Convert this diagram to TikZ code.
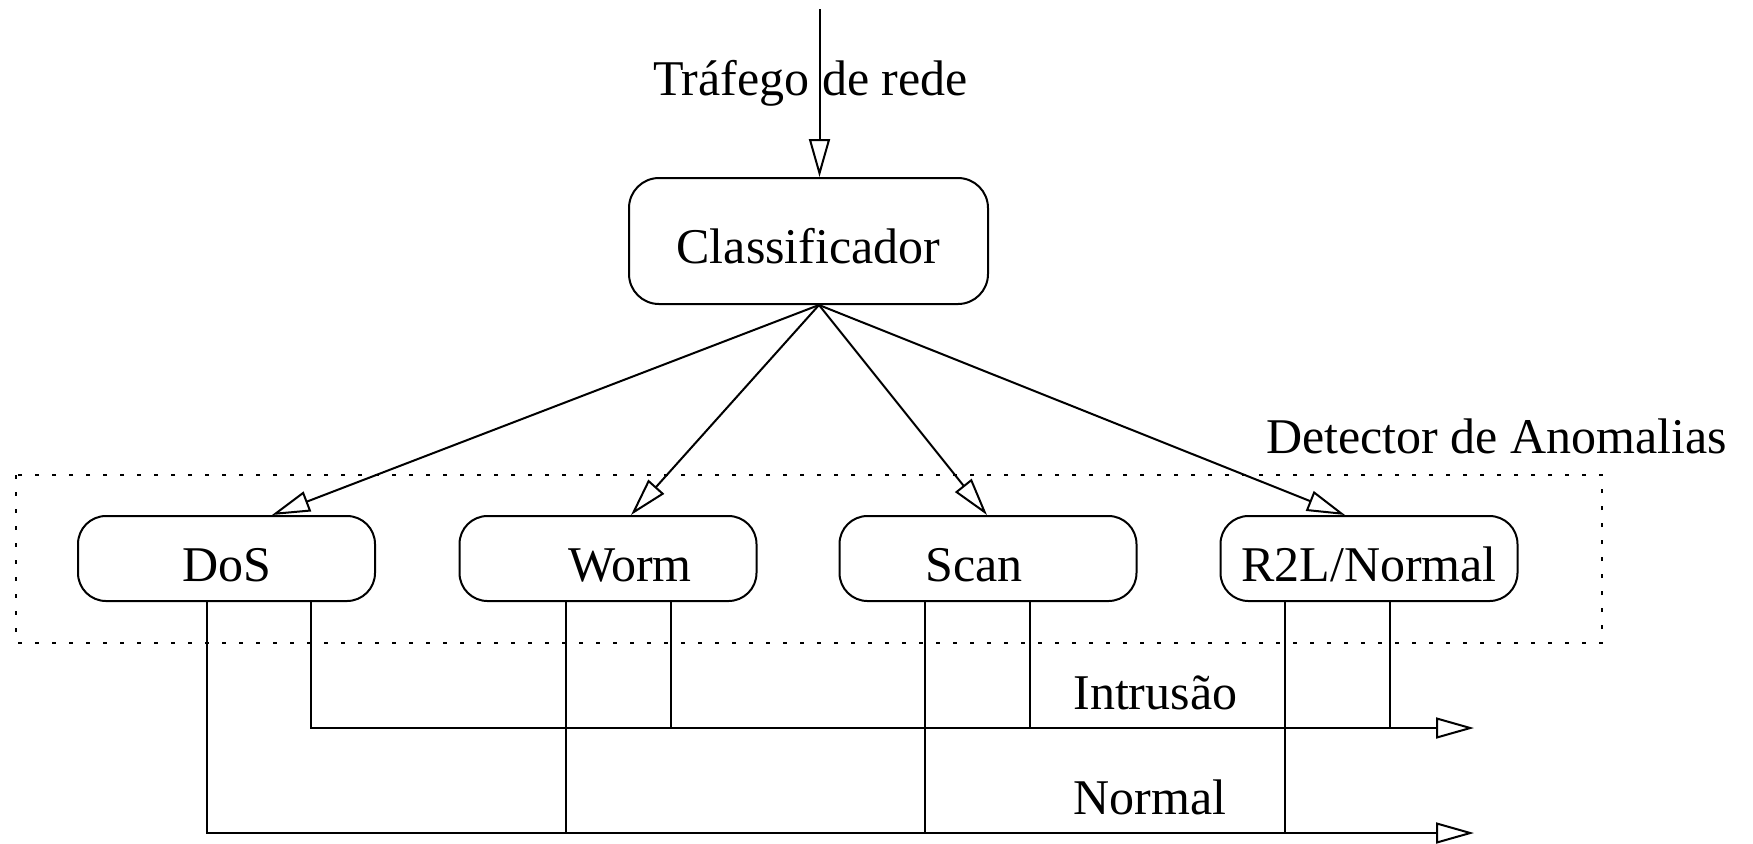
\documentclass[tikz,border=0pt]{standalone}
\usepackage{fontspec}
\setmainfont{Liberation Serif}
\usetikzlibrary{arrows.meta,calc}
\begin{document}
\begin{tikzpicture}[x=0.5pt,y=-0.5pt,
  every node/.style={font=\fontsize{25}{30}\selectfont},
  line/.style={line width=1pt},
  arr/.style={line width=1pt,-{Triangle[open,length=19pt,width=10.5pt]}},
  cbox/.style={draw,line width=1pt,rounded corners=15pt,minimum width=179.5pt,minimum height=63pt,inner sep=0pt,text height=22.5pt,text depth=0pt},
  sbox/.style={draw,line width=1pt,rounded corners=14pt,minimum width=148.5pt,minimum height=42.5pt,inner sep=0pt,text height=22.5pt,text depth=0pt},
  lbl/.style={anchor=base,inner sep=0pt},
  lblw/.style={anchor=base west,inner sep=0pt},
  group/.style={line width=1pt,dash pattern=on 2pt off 6.5pt}
]
\useasboundingbox (0,0) rectangle (1753,843);

% detector group
\draw[group] (16,475) rectangle (1602,643);

% nodes
\node[cbox] (cls) at (808.5,241) {Classificador};
\node[sbox] (dos) at (226.5,558.5) {DoS};
\node[sbox] (worm) at (608,558.5) {\kern22pt Worm};
\node[sbox] (scan) at (988,558.5) {Scan\kern14pt};
\node[sbox] (r2l) at (1369,558.5) {R2L/Normal};

% labels
\node[lbl] (traf) at (810.5,95) {Tráfego de rede};
\node[lbl] (det) at (1496.5,453) {Detector de Anomalias};
\node[lblw] (intr) at (1073,709) {Intrusão};
\node[lblw] (norm) at (1073,814) {Normal};

% input
\coordinate (src) at (819.5,9);
\draw[arr] (src) -- (src |- cls.north);

% classifier outputs
\coordinate (cs) at ($(cls.south)+(10.5,0)$);
\coordinate (tD) at ($(dos.north)+(45.5,0)$);
\coordinate (tW) at ($(worm.north)+(23,0)$);
\coordinate (tS) at ($(scan.north)+(-1,0)$);
\coordinate (tR) at ($(r2l.north)+(-24,0)$);
\draw[arr] (cs) -- (tD);
\draw[arr] (cs) -- (tW);
\draw[arr] (cs) -- (tS);
\draw[arr] (cs) -- (tR);

% output buses
\coordinate (iend) at (1474,728);
\coordinate (nend) at (1474,833);
\coordinate (d1) at ($(dos.south)+(-19.5,0)$);
\coordinate (d2) at ($(dos.south)+(84.5,0)$);
\coordinate (w1) at ($(worm.south)+(-42,0)$);
\coordinate (w2) at ($(worm.south)+(63,0)$);
\coordinate (s1) at ($(scan.south)+(-63,0)$);
\coordinate (s2) at ($(scan.south)+(42,0)$);
\coordinate (r1) at ($(r2l.south)+(-84,0)$);
\coordinate (r2) at ($(r2l.south)+(21,0)$);

\draw[arr] (d2) |- (iend);
\draw[arr] (d1) |- (nend);
\draw[line] (w1) -- (w1 |- nend);
\draw[line] (w2) -- (w2 |- iend);
\draw[line] (s1) -- (s1 |- nend);
\draw[line] (s2) -- (s2 |- iend);
\draw[line] (r1) -- (r1 |- nend);
\draw[line] (r2) -- (r2 |- iend);
\end{tikzpicture}
\end{document}
